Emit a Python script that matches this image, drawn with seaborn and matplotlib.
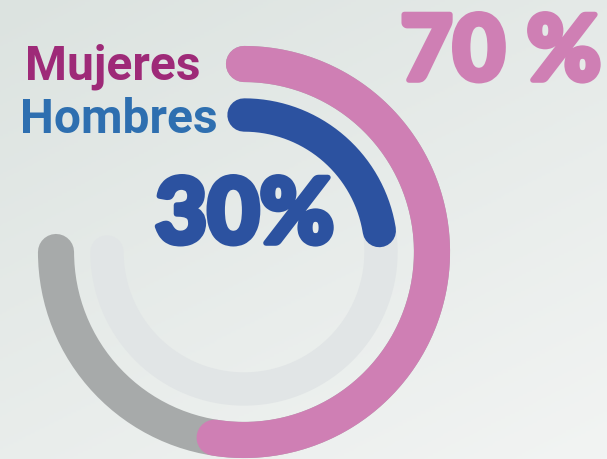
import numpy as np
import pandas as pd
import matplotlib
matplotlib.use("Agg")
import matplotlib.pyplot as plt
import matplotlib.patheffects as pe
import seaborn as sns

# ---- data ----
categories = ["Mujeres", "Hombres"]
values = [70, 30]                 # percent
value_labels = ["70 %", "30%"]
bar_colors = ["#cf7fb4", "#2c52a0"]
track_colors = ["#a7aaaa", "#e1e5e6"]
label_colors = ["#9e2a78", "#2e6fb0"]
radii = [188, 137]
widths = [26, 24]
SPAN = 270.0  # degrees of the full track

sns.set_style("white")
plt.rcParams['font.family'] = ['Roboto', 'DejaVu Sans']

W, H = 607, 460
fig = plt.figure(figsize=(W / 100, H / 100), dpi=100)

# background gradient
bg = fig.add_axes([0, 0, 1, 1])
gy, gx = np.mgrid[0:1:200j, 0:1:260j]
grad = 0.6 * gy + 0.4 * gx
bg.imshow(grad, cmap=matplotlib.colors.LinearSegmentedColormap.from_list(
    "bg", ["#dce3e0", "#f2f4f3"]), aspect="auto", extent=[0, 1, 0, 1], origin="upper")
bg.axis("off")

cx, cy, R = 244, 253, 220
ax = fig.add_axes([(cx - R) / W, (H - cy - R) / H, 2 * R / W, 2 * R / H], projection="polar")
ax.set_theta_zero_location("N")
ax.set_theta_direction(-1)
ax.set_ylim(0, R)
ax.patch.set_alpha(0)
ax.axis("off")

def arc(frac, r, color, lw, z, alpha=1.0):
    th = np.deg2rad(np.linspace(0, SPAN * frac, 200))
    df = pd.DataFrame({"theta": th, "r": np.full_like(th, r)})
    sns.lineplot(data=df, x="theta", y="r", ax=ax, color=color, linewidth=lw,
                 solid_capstyle="round", sort=False, zorder=z, alpha=alpha)

for i, cat in enumerate(categories):
    arc(1.0, radii[i], track_colors[i], widths[i], 1)
    arc(values[i] / 100, radii[i], bar_colors[i], widths[i], 2)

# labels
fig.text(25 / W, 1 - 80 / H, categories[0], color=label_colors[0], fontsize=34.5,
         fontweight="bold", ha="left", va="baseline")
fig.text(20 / W, 1 - 133 / H, categories[1], color=label_colors[1], fontsize=34.5,
         fontweight="bold", ha="left", va="baseline")
t1 = fig.text(601 / W, 1 - 81 / H, value_labels[0], color=bar_colors[0], fontsize=65,
              fontweight="black", family=["Lato", "DejaVu Sans"], ha="right", va="baseline")
t1.set_path_effects([pe.withStroke(linewidth=4, foreground=bar_colors[0])])
t2 = fig.text(334 / W, 1 - 244 / H, value_labels[1], color=bar_colors[1], fontsize=65,
              fontweight="black", family=["Lato", "DejaVu Sans"], ha="right", va="baseline")
t2.set_path_effects([pe.withStroke(linewidth=4, foreground=bar_colors[1])])

fig.savefig("out.png", dpi=100)
